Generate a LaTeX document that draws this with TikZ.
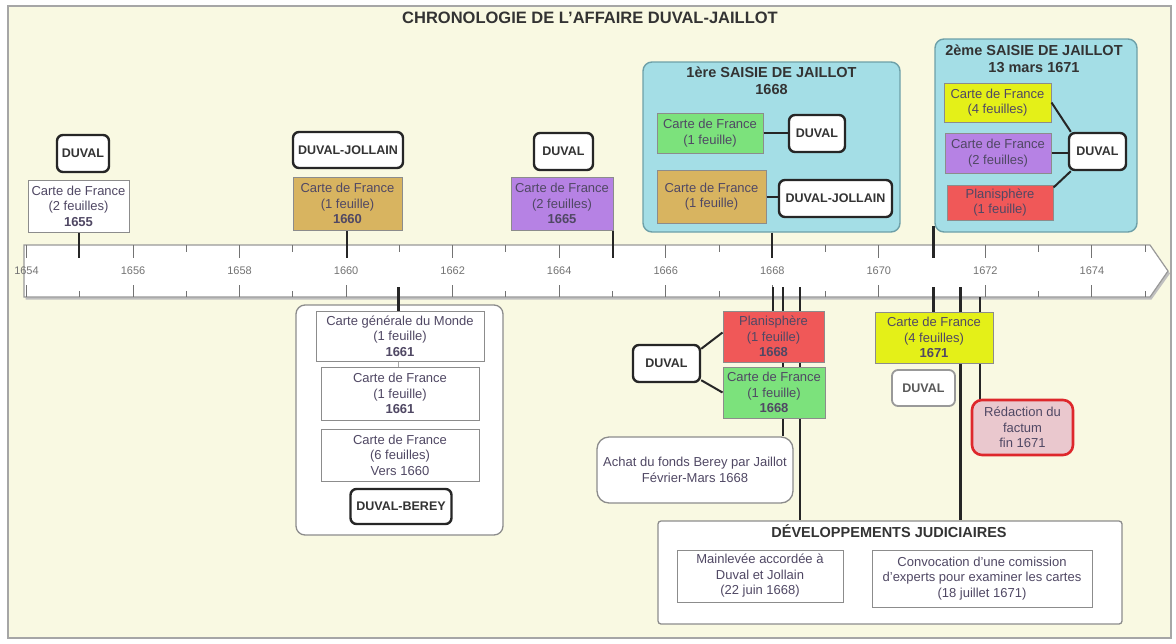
\documentclass[tikz,border=0pt]{standalone}
\usepackage{fontspec}
\setmainfont{Liberation Sans}
\usetikzlibrary{calc}
\pgfdeclarelayer{back}
\pgfdeclarelayer{lines}
\pgfsetlayers{back,lines,main}

\definecolor{cream}{RGB}{249,249,226}
\definecolor{txt}{RGB}{80,72,100}
\definecolor{goldc}{RGB}{216,180,96}
\definecolor{purplec}{RGB}{182,130,228}
\definecolor{greenc}{RGB}{124,226,124}
\definecolor{redc}{RGB}{240,88,88}
\definecolor{yellowc}{RGB}{228,240,24}
\definecolor{cyanfill}{RGB}{164,222,230}
\definecolor{cyanborder}{RGB}{110,160,168}
\definecolor{pinkc}{RGB}{234,200,206}
\definecolor{factumred}{RGB}{222,40,44}

\newcommand\cardfont{\fontsize{13}{15.5}\selectfont}
\newcommand\namefont{\fontsize{12.5}{15}\selectfont\bfseries}
\newcommand\grpfont{\fontsize{14.5}{17}\selectfont\bfseries}
\newcommand\yearfont{\fontsize{11}{13}\selectfont}
\newcommand\mainfont{\fontsize{16.5}{19}\selectfont\bfseries}

\tikzset{
  wh/.style 2 args={minimum width=#1pt, minimum height=#2pt},
  cardbox/.style={draw=black!45, line width=1pt, align=center, inner sep=1pt, font=\cardfont, text=txt},
  namebox/.style={draw=black!85, line width=2.4pt, rounded corners=6pt, fill=white, font=\namefont, text=black!80, inner sep=1pt},
  groupbox/.style={draw=cyanborder, line width=1.4pt, rounded corners=9pt, fill=cyanfill, inner sep=0pt},
  whitegroup/.style={draw=black!45, line width=1.3pt, rounded corners=9pt, fill=white, inner sep=0pt},
  grptitle/.style={font=\grpfont, text=black!80, align=center, inner sep=0pt},
  softbox/.style={draw=black!45, line width=1.3pt, rounded corners=12pt, fill=white, align=center, font=\cardfont, text=txt, inner sep=1pt},
  graybox/.style={draw=black!40, line width=1.8pt, rounded corners=6pt, fill=white, font=\namefont, text=black!65, inner sep=1pt},
  factumbox/.style={draw=factumred, line width=2.6pt, rounded corners=10pt, fill=pinkc, align=center, font=\cardfont, text=txt, inner sep=1pt},
  devbox/.style={draw=black!45, line width=1.3pt, rounded corners=3pt, fill=white, inner sep=0pt},
  conn/.style={line width=2.4pt, draw=black!85},
  link/.style={line width=2pt, draw=black!85},
  faint/.style={line width=1pt, draw=black!35},
}

\begin{document}
\begin{tikzpicture}[x=1pt,y=-1pt]
\useasboundingbox (0,0) rectangle (1176,643);

\begin{pgfonlayer}{back}
  \fill[white] (0,0) rectangle (1176,643);
  \draw[fill=cream, draw=black!35, line width=1.2pt] (8,6) rectangle (1171,638);
  % timeline band
  \fill[black!25] (25.5,247.5) -- (1151.5,247.5) -- (1170,273.5) -- (1151.5,299.5) -- (25.5,299.5) -- cycle;
  \draw[fill=white, draw=black!40, line width=1.2pt] (24,245) -- (1150,245) -- (1168,271) -- (1150,297) -- (24,297) -- cycle;
  \foreach \n in {0,...,21} {
    \pgfmathsetmacro\xx{26.5+\n*53.27}
    \ifodd\n
      \draw[black!55, line width=0.9pt] (\xx,245) -- (\xx,252);
      \draw[black!55, line width=0.9pt] (\xx,291) -- (\xx,297);
    \else
      \draw[black!55, line width=0.9pt] (\xx,245) -- (\xx,258);
      \draw[black!55, line width=0.9pt] (\xx,285) -- (\xx,297);
    \fi
  }
  \foreach \n/\yr in {0/1654,2/1656,4/1658,6/1660,8/1662,10/1664,12/1666,14/1668,16/1670,18/1672,20/1674} {
    \node[font=\yearfont, text=black!55, inner sep=0pt] (yl\yr) at ({26.5+\n*53.27},271) {\yr};
  }
  % group containers
  \node[groupbox, wh={257}{170}] (sj1) at (771.5,147) {};
  \node[groupbox, wh={202}{193}] (sj2) at (1036,135.5) {};
  \node[whitegroup, wh={207}{230}] (g1661) at (399.5,420) {};
  \node[devbox, wh={464}{103}] (dev) at (890,572.5) {};
\end{pgfonlayer}

% title
\node[font=\mainfont, text=black!80, inner sep=0pt] (title) at (590,18) {CHRONOLOGIE DE L'AFFAIRE DUVAL-JAILLOT};

% top events
\node[namebox, wh={52}{37}] (d1655) at (83,153.5) {DUVAL};
\node[cardbox, fill=white, wh={101}{52}] (c1655) at (78.5,206) {Carte de France\\(2 feuilles)\\\textbf{1655}};
\node[namebox, wh={110}{36}] (dj1660) at (348,150) {DUVAL-JOLLAIN};
\node[cardbox, fill=goldc, wh={109}{53}] (c1660) at (347.5,203.5) {Carte de France\\(1 feuille)\\\textbf{1660}};
\node[namebox, wh={59}{37}] (d1665) at (563.5,151.5) {DUVAL};
\node[cardbox, fill=purplec, wh={102}{53}] (c1665) at (562,203.5) {Carte de France\\(2 feuilles)\\\textbf{1665}};

% 1ere saisie
\node[grptitle] (sj1t) at (771.5,80.5) {1ère SAISIE DE JAILLOT\\1668};
\node[cardbox, fill=greenc, wh={106}{40}] (s1g) at (710,133) {Carte de France\\(1 feuille)};
\node[namebox, wh={56}{37}] (s1d) at (817,133.5) {DUVAL};
\node[cardbox, fill=goldc, wh={109}{53}] (s1o) at (711.5,196.5) {Carte de France\\(1 feuille)};
\node[namebox, wh={113}{37}] (s1dj) at (835.5,198.5) {DUVAL-JOLLAIN};

% 2eme saisie
\node[grptitle] (sj2t) at (1034,58.5) {2ème SAISIE DE JAILLOT\\13 mars 1671};
\node[cardbox, fill=yellowc, wh={107}{39}] (s2y) at (997.5,102.5) {Carte de France\\(4 feuilles)};
\node[cardbox, fill=purplec, wh={106}{40}] (s2p) at (998,153) {Carte de France\\(2 feuilles)};
\node[cardbox, fill=redc, wh={106}{35}] (s2r) at (1000,202.5) {Planisphère\\(1 feuille)};
\node[namebox, wh={57}{37}] (s2d) at (1097.5,151.5) {DUVAL};

% 1661 group
\node[cardbox, fill=white, wh={168}{50}] (m1) at (400,336) {Carte générale du Monde\\(1 feuille)\\\textbf{1661}};
\node[cardbox, fill=white, wh={158}{53}] (m2) at (400,393.5) {Carte de France\\(1 feuille)\\\textbf{1661}};
\node[cardbox, fill=white, wh={158}{52}] (m3) at (400,455) {Carte de France\\(6 feuilles)\\Vers 1660};
\node[namebox, wh={101}{35}] (dbe) at (401,506.5) {DUVAL-BEREY};

% 1668 bottom
\node[cardbox, fill=redc, wh={101}{51}] (pl1) at (773.5,336.5) {Planisphère\\(1 feuille)\\\textbf{1668}};
\node[cardbox, fill=greenc, wh={102}{51}] (cf1668) at (774,392.5) {Carte de France\\(1 feuille)\\\textbf{1668}};
\node[namebox, wh={67}{37}] (d1668) at (666.5,363.5) {DUVAL};
\node[softbox, wh={196}{66}] (achat) at (695,470) {Achat du fonds Berey par Jaillot\\Février-Mars 1668};

% 1671 bottom
\node[cardbox, fill=yellowc, wh={118}{51}] (cf1671) at (934,337.5) {Carte de France\\(4 feuilles)\\\textbf{1671}};
\node[graybox, wh={63}{36}] (d1671) at (923.5,388) {DUVAL};
\node[factumbox, wh={101}{55}] (fact) at (1022.5,427.5) {Rédaction du\\factum\\fin 1671};

% developpements
\node[font=\grpfont, text=black!80, inner sep=0pt] (devt) at (889,531) {DÉVELOPPEMENTS JUDICIAIRES};
\node[cardbox, fill=white, wh={166}{52}] (dv1) at (760,576) {Mainlevée accordée à\\Duval et Jollain\\(22 juin 1668)};
\node[cardbox, fill=white, wh={220}{57}] (dv2) at (982,578.5) {Convocation d'une comission\\d'experts pour examiner les cartes\\(18 juillet 1671)};

% coordinates on the band
\coordinate (t1655) at (79,258);
\coordinate (t1660) at (347,258);
\coordinate (t1665) at (613,258);
\coordinate (t1668) at (772,258);
\coordinate (t1671) at (933.5,258);
\coordinate (t1671s) at (933.5,226);
\coordinate (b1661) at (398.5,287);
\coordinate (b1668a) at (773,287);
\coordinate (b1668b) at (783,287);
\coordinate (b1668c) at (800,287);
\coordinate (b1671a) at (933.5,287);
\coordinate (b1671b) at (960.5,287);
\coordinate (b1671c) at (980,297);

\begin{pgfonlayer}{lines}
  \draw[conn] (c1655.south -| t1655) -- (t1655);
  \draw[conn] (c1660.south -| t1660) -- (t1660);
  \draw[conn] (c1665.south -| t1665) -- (t1665);
  \draw[conn] (sj1.south -| t1668) -- (t1668);
  \draw[conn] (t1671s) -- (t1671);
  \draw[conn] (b1661) -- (m1.north -| b1661);
  \draw[faint] (m1.south -| b1661) -- (m2.north -| b1661);
  \draw[conn] (b1668a) -- (pl1.north -| b1668a);
  \draw[conn] (b1668b) -- (achat.north -| b1668b);
  \draw[conn] (b1668c) -- (dev.north -| b1668c);
  \draw[conn] (b1671a) -- (cf1671.north -| b1671a);
  \draw[conn] (b1671b) -- (dev.north -| b1671b);
  \draw[conn] (b1671c) -- (fact.north -| b1671c);
\end{pgfonlayer}

% links inside groups
\draw[link] (s1g.east) -- (s1g.east -| s1d.west);
\draw[link] (s1o.east) -- (s1o.east -| s1dj.west);
\draw[link] (s2y.east) -- ([xshift=3pt]s2d.north west);
\draw[link] (s2p.east) -- (s2p.east -| s2d.west);
\draw[link] ([yshift=-3pt]s2r.north east) -- ([xshift=3pt]s2d.south west);
\draw[link] ([yshift=-5pt]d1668.north east) -- ([yshift=4pt]pl1.west);
\draw[link] ([yshift=3pt]d1668.south east) -- (cf1668.west);
\end{tikzpicture}
\end{document}
